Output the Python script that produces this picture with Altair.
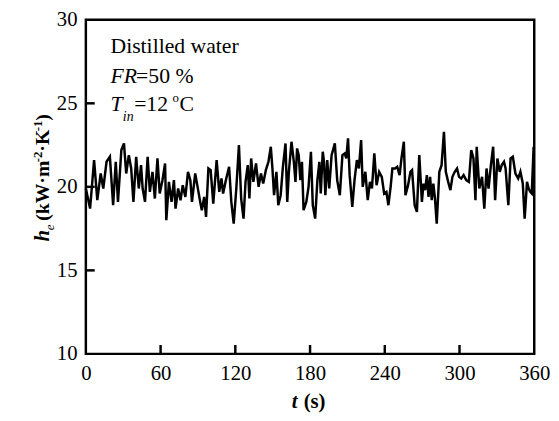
import altair as alt
import pandas as pd

# ---- data (time in s, h_e in kW m-2 K-1) ----
t_seg1 = [0, 3.4, 6.6, 9.2, 11.9, 14.0, 16.6, 19.3, 21.9, 24.0, 25.8, 28.5, 30.6, 32.4,
          34.5, 36.4, 38.2, 40.4, 42.5, 44.3, 45.6, 47.5, 49.6, 51.4, 53.5, 55.4, 57.5,
          59.3, 61.5, 63.6, 64.6, 66.7, 68.8, 70.7, 72.0, 74.1, 76.0, 77.8, 79.9, 82.0, 83.9]
he_seg1 = [19.9, 18.7, 21.6, 19.2, 20.8, 19.9, 21.5, 21.8, 18.9, 21.5, 19.1, 22.2, 22.6, 20.8,
           21.9, 21.1, 19.1, 21.8, 19.9, 21.3, 19.9, 19.1, 21.8, 19.7, 20.9, 19.3, 21.7,
           19.6, 20.4, 21.4, 18.0, 20.3, 19.1, 20.4, 18.7, 19.9, 19.2, 20.1, 19.4, 20.9, 20.4]

t_seg2 = [85.2, 87.8, 89.7, 91.8, 93.1, 95.0, 96.5, 98.4, 100.2, 102.3, 105.0, 107.1, 108.9,
          110.2, 112.4, 115.0, 116.8, 118.7, 120.8, 122.9, 124.7, 126.6, 128.2, 130.0, 131.3,
          132.7, 134.5, 136.6, 138.7, 140.6, 142.4, 144.5, 146.6, 148.5, 149.8, 151.1, 153.0,
          154.5, 156.4, 158.2, 160.3, 161.7, 163.0, 165.1, 167.0, 168.3, 169.6, 170.9, 172.2,
          173.5, 174.8]
he_seg2 = [19.1, 20.8, 20.0, 19.1, 18.6, 19.4, 18.2, 21.1, 21.0, 19.0, 21.6, 19.7, 20.5,
           19.6, 20.4, 21.2, 19.1, 17.8, 19.9, 22.5, 19.3, 18.1, 20.3, 21.3, 19.3,
           21.7, 20.3, 21.4, 20.0, 20.8, 20.2, 21.0, 21.5, 22.4, 21.1, 19.5, 20.9,
           18.9, 19.5, 21.2, 22.6, 19.1, 20.9, 22.7, 21.5, 20.3, 22.3, 21.9, 20.4,
           21.5, 18.6]

t_seg3 = [177.0, 178.8, 180.7, 182.2, 184.1, 185.9, 187.5, 188.6, 190.2, 191.2, 192.3, 193.8,
          195.4, 197.3, 199.9, 201.8, 203.9, 206.0, 207.8, 209.1, 210.5, 211.8, 213.9, 215.7,
          217.6, 219.2, 221.0, 222.3, 224.4, 226.3, 228.1, 229.7, 231.6, 233.4, 235.5, 237.6,
          239.5, 241.3, 242.9, 244.7, 246.1, 248.2, 250.0, 251.9, 253.4, 255.3, 256.6, 258.7,
          260.6, 261.9, 264.0, 265.8, 267.7]
he_seg3 = [19.1, 20.0, 22.1, 18.9, 18.1, 20.4, 21.5, 19.6, 22.1, 21.5, 19.5, 21.6,
           19.9, 21.9, 22.6, 20.4, 19.5, 21.9, 22.0, 21.7, 22.9, 20.7, 18.8, 20.4,
           21.6, 21.1, 22.8, 20.0, 20.9, 19.2, 20.3, 19.9, 22.0, 20.1, 20.9, 20.6,
           19.6, 19.7, 18.9, 20.0, 21.1, 21.1, 21.2, 20.7, 21.7, 22.7, 19.5, 20.1,
           20.9, 21.0, 18.9, 18.5, 21.9]

t_seg4 = [269.8, 271.1, 272.4, 273.8, 275.1, 276.4, 277.7, 279.0, 280.3, 281.7, 283.8, 285.6,
          287.5, 289.0, 290.9, 292.7, 294.3, 296.2, 298.0, 299.6, 301.4, 303.3, 305.4, 307.5,
          309.4, 311.2, 312.8, 313.8, 315.9, 318.1, 319.9, 321.7, 323.3, 325.2, 327.0, 328.6,
          330.4, 332.3, 333.9, 335.7, 337.0, 339.2, 341.0, 342.8, 344.9, 347.1, 348.9, 350.8,
          352.3, 354.2, 355.5, 356.8, 358.0, 359.5]
he_seg4 = [19.1, 20.2, 19.8, 20.7, 19.4, 20.6, 19.2, 20.2, 19.3, 17.8, 20.9, 21.3,
           23.3, 20.9, 20.3, 19.8, 20.6, 20.9, 21.1, 20.6, 20.5, 20.7, 20.4, 20.3,
           22.2, 21.7, 19.2, 22.4, 19.9, 20.6, 18.7, 21.1, 19.9, 21.3, 22.4, 19.2,
           21.7, 20.9, 21.3, 21.5, 21.1, 18.9, 21.7, 21.8, 20.8, 20.5, 20.9, 20.2,
           18.1, 20.3, 19.9, 19.7, 19.6, 22.4]

x_tick_values = [0, 60, 120, 180, 240, 300, 360]
y_tick_values = [10, 15, 20, 25, 30]
x_inner_ticks = [60, 120, 180, 240, 300]
y_inner_ticks = [15, 20, 25]

t_all = t_seg1 + t_seg2 + t_seg3 + t_seg4
he_all = he_seg1 + he_seg2 + he_seg3 + he_seg4
assert len(t_all) == len(he_all)
df = pd.DataFrame({"t": t_all, "he": he_all})

W, H = 455, 339
FONT = "Liberation Serif"

xs = alt.Scale(domain=[0, 360], nice=False, zero=False)
ys = alt.Scale(domain=[10, 30], nice=False, zero=False)

x_axis = alt.Axis(values=x_tick_values, title="", ticks=False, tickSize=0, domain=False,
                  grid=False, labelFont=FONT, labelFontSize=21, labelColor="black",
                  labelPadding=9, labelFlush=False, labelOverlap=False)
y_axis = alt.Axis(values=y_tick_values, title="", ticks=False, tickSize=0, domain=False,
                  grid=False, labelFont=FONT, labelFontSize=21, labelColor="black",
                  labelPadding=9, labelFlush=False, labelOverlap=False)

x_enc = alt.X("t:Q", scale=xs, axis=x_axis)
y_enc = alt.Y("he:Q", scale=ys, axis=y_axis)

line = alt.Chart(df).mark_line(color="black", strokeWidth=2.5).encode(x=x_enc, y=y_enc)

xticks = alt.Chart(pd.DataFrame({"t": x_inner_ticks})).mark_rule(
    color="black", strokeWidth=2.5).encode(x=x_enc, y=alt.value(H), y2=alt.value(H - 9))
yticks = alt.Chart(pd.DataFrame({"he": y_inner_ticks})).mark_rule(
    color="black", strokeWidth=2.5).encode(y=y_enc, x=alt.value(0), x2=alt.value(9))


def label(text, px, py, size=22, weight="normal", style="normal", angle=0):
    return alt.Chart(pd.DataFrame({"s": [text]})).mark_text(
        font=FONT, fontSize=size, fontWeight=weight, fontStyle=style, color="black",
        align="left", baseline="alphabetic", angle=angle
    ).encode(x=alt.value(px), y=alt.value(py), text="s:N")


annotations = [
    label("Distilled water", 25, 34),
    label("FR", 25, 64, style="italic"),
    label("=50 %", 51, 64),
    label("T", 25, 93, style="italic"),
    label("in", 37.5, 103, size=14, style="italic"),
    label("=12", 49, 93),
    label("o", 88, 83, size=13),
    label("C", 95, 93),
    # x-axis title
    label("t", 209, 394, size=21, weight="bold", style="italic"),
    label("(s)", 221, 394, size=21, weight="bold"),
    # y-axis title (rotated, reads bottom to top)
    label("h", -37, 225, size=21, weight="bold", style="italic", angle=270),
    label("e", -32, 213.5, size=13, style="italic", angle=270),
    label("(kW·m", -37, 204, size=20, weight="bold", angle=270),
    label("-2", -45, 144.6, size=13, weight="bold", angle=270),
    label("·K", -37, 133.8, size=20, weight="bold", angle=270),
    label("-1", -45, 113.2, size=13, weight="bold", angle=270),
    label(")", -37, 102.4, size=20, weight="bold", angle=270),
]

chart = alt.layer(line, xticks, yticks, *annotations).properties(
    width=W, height=H,
    padding={"left": 79, "top": 9, "right": 17, "bottom": 57},
    autosize=alt.AutoSizeParams(type="none"),
    background="white",
).configure_view(stroke="black", strokeWidth=2.5)

chart.save("out.html", embed_options={"renderer": "svg", "actions": False})
